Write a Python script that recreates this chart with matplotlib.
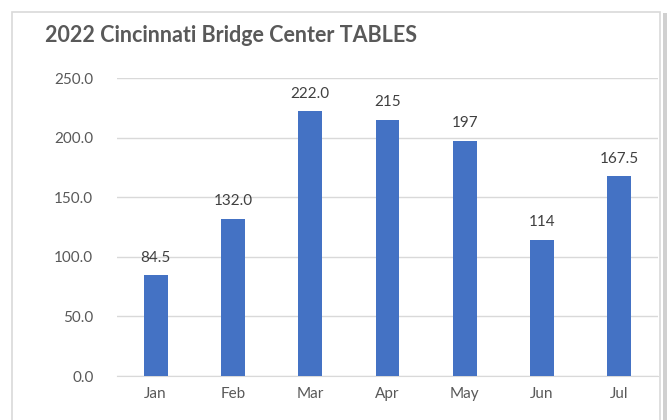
import matplotlib.pyplot as plt
from matplotlib.patches import Rectangle

months = ['Jan', 'Feb', 'Mar', 'Apr', 'May', 'Jun', 'Jul']
tables = [84.5, 132.0, 222.0, 215, 197, 114, 167.5]
value_labels = ['84.5', '132.0', '222.0', '215', '197', '114', '167.5']
y_ticks = [0, 50, 100, 150, 200, 250]

plt.rcParams['font.family'] = ['Lato', 'DejaVu Sans']

fig = plt.figure(figsize=(6.67, 4.2), dpi=100)

# chart frame with a soft shadow on the right
fig.patches.append(Rectangle((663 / 667, -0.1), 4 / 667, 1.07, transform=fig.transFigure,
                             facecolor='#d0d0d0', edgecolor='none', zorder=0))
fig.patches.append(Rectangle((12 / 667, -0.1), 648 / 667, 1 - 12 / 420 + 0.1,
                             transform=fig.transFigure, facecolor='white',
                             edgecolor='#d9d9d9', linewidth=1.2, zorder=1))

ax = fig.add_axes([117 / 667, 1 - 376 / 420, 541 / 667, 298 / 420])
ax.set_zorder(2)
ax.patch.set_alpha(0)

x = range(len(months))
bars = ax.bar(x, tables, width=0.31, color='#4472c4', zorder=3)
for b, lab in zip(bars, value_labels):
    ax.text(b.get_x() + b.get_width() / 2, b.get_height() + 9, lab,
            ha='center', va='bottom', fontsize=11, color='#404040')

ax.set_xlim(-0.5, len(months) - 0.5)
ax.set_ylim(0, 250)
ax.set_yticks(y_ticks)
ax.set_yticklabels([f'{t:.1f}' for t in y_ticks])
ax.set_xticks(list(x))
ax.set_xticklabels(months)
ax.grid(axis='y', color='#d9d9d9', linewidth=1, zorder=0)
for s in ['top', 'right', 'left']:
    ax.spines[s].set_visible(False)
ax.spines['bottom'].set_color('#d9d9d9')
ax.tick_params(length=0, labelsize=11, labelcolor='#595959')
ax.tick_params(axis='y', pad=17)
ax.tick_params(axis='x', pad=8)

fig.text(45 / 667, 1 - 36 / 420, '2022 Cincinnati Bridge Center TABLES',
         fontsize=15.5, fontweight='bold', color='#595959', va='center', ha='left')

fig.savefig('out.png', dpi=100)
